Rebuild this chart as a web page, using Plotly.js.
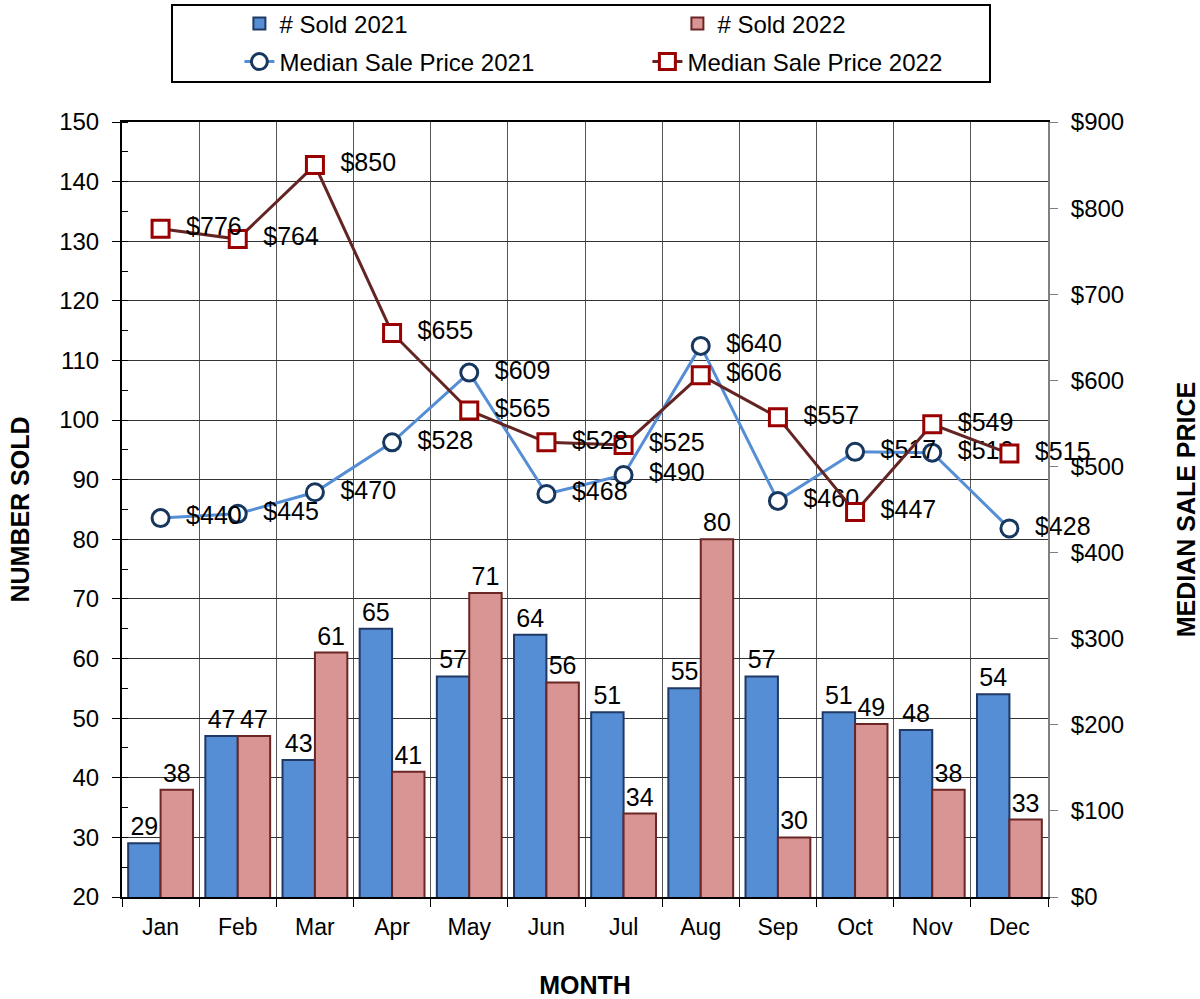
<!DOCTYPE html>
<html>
<head>
<meta charset="utf-8">
<script src="https://cdn.plot.ly/plotly-3.0.1.min.js"></script>
<style>html,body{margin:0;padding:0;background:#fff;}#chart{width:1200px;height:999px;}</style>
</head>
<body>
<div id="chart"></div>
<script>
const months = ["Jan","Feb","Mar","Apr","May","Jun","Jul","Aug","Sep","Oct","Nov","Dec"];
const sold2021 = [29,47,43,65,57,64,51,55,57,51,48,54];
const sold2022 = [38,47,61,41,71,56,34,80,30,49,38,33];
const price2021 = [440,445,470,528,609,468,490,640,460,517,516,428];
const price2022 = [776,764,850,655,565,528,525,606,557,447,549,515];

const FONT = "Liberation Sans, Arial, sans-serif";
const money = v => "\u00a0\u00a0$" + v;

const traces = [
  {type:"bar", name:"# Sold 2021", x:months, y:sold2021, text:sold2021.map(String),
   textposition:"outside", textfont:{size:25,color:"#000"}, cliponaxis:false, legend:"legend",
   marker:{color:"#558ED5", line:{color:"#1F3864", width:2}}},
  {type:"bar", name:"# Sold 2022", x:months, y:sold2022, text:sold2022.map(String),
   textposition:"outside", textfont:{size:25,color:"#000"}, cliponaxis:false, legend:"legend",
   marker:{color:"#D99594", line:{color:"#6B2525", width:2}}},
  {type:"scatter", mode:"lines+markers+text", name:"Median Sale Price 2021", x:months, y:price2021,
   yaxis:"y2", text:price2021.map(money), textposition:"middle right", textfont:{size:25,color:"#000"},
   cliponaxis:false, legend:"legend2",
   line:{color:"#558ED5", width:3},
   marker:{symbol:"circle", size:17, color:"#fff", line:{color:"#17375E", width:3}}},
  {type:"scatter", mode:"lines+markers+text", name:"Median Sale Price 2022", x:months, y:price2022,
   yaxis:"y2", text:price2022.map(money), textposition:"middle right", textfont:{size:25,color:"#000"},
   cliponaxis:false, legend:"legend2",
   line:{color:"#632523", width:3},
   marker:{symbol:"square", size:17, color:"#fff", line:{color:"#990000", width:3}}}
];

const legendBase = {orientation:"h", xref:"container", yref:"container", x:0.1995, xanchor:"left",
  yanchor:"middle", entrywidthmode:"pixels", borderwidth:0, bgcolor:"rgba(0,0,0,0)",
  font:{family:FONT, size:24, color:"#000"}, traceorder:"normal"};

const layout = {
  width:1200, height:999,
  margin:{l:122, r:152, t:122, b:102},
  paper_bgcolor:"#fff", plot_bgcolor:"#fff",
  font:{family:FONT, size:22, color:"#000"},
  barmode:"group", bargap:0.16, bargroupgap:0,
  hovermode:false,
  showlegend:true,
  legend:Object.assign({}, legendBase, {y:1 - 24/999, entrywidth:393}),
  legend2:Object.assign({}, legendBase, {y:1 - 62/999, entrywidth:363}),
  shapes:[{type:"rect", xref:"paper", yref:"paper",
           x0:(172-122)/926, x1:(990-122)/926, y0:(897-82)/775, y1:(897-5)/775,
           line:{color:"#000", width:2}, fillcolor:"rgba(0,0,0,0)"}],
  xaxis:{type:"category", range:[-0.5, 11.5], tickson:"boundaries", ticks:"outside", ticklen:8, tickcolor:"#000",
         showgrid:true, gridcolor:"#555", gridwidth:1, automargin:false,
         showline:true, linecolor:"#000", linewidth:2, mirror:true, ticklabelstandoff:8,
         tickfont:{size:23, family:FONT},
         title:{text:"<b>MONTH</b>", font:{size:25, family:FONT}, standoff:41}},
  yaxis:{range:[20,150], dtick:10, ticks:"outside", ticklen:8, tickcolor:"#000", automargin:false,
         minor:{dtick:5, ticks:"inside", ticklen:6, tickcolor:"#000", showgrid:false},
         showgrid:true, gridcolor:"#333", gridwidth:1, ticklabelstandoff:8,
         showline:true, linecolor:"#000", linewidth:2, zeroline:false,
         tickfont:{size:24, family:FONT},
         title:{text:"<b>NUMBER SOLD</b>", font:{size:25, family:FONT}, standoff:22}},
  yaxis2:{range:[0,900], dtick:100, overlaying:"y", side:"right", tickprefix:"$", automargin:false,
          ticks:"outside", ticklen:8, tickcolor:"#808080", ticklabelstandoff:8,
          showgrid:false, zeroline:false,
          showline:true, linecolor:"#808080", linewidth:2,
          tickfont:{size:24, family:FONT},
          title:{text:"<b>MEDIAN SALE PRICE</b>", font:{size:25, family:FONT}, standoff:54}}
};

Plotly.newPlot("chart", traces, layout, {staticPlot:true, displayModeBar:false});
</script>
</body>
</html>
